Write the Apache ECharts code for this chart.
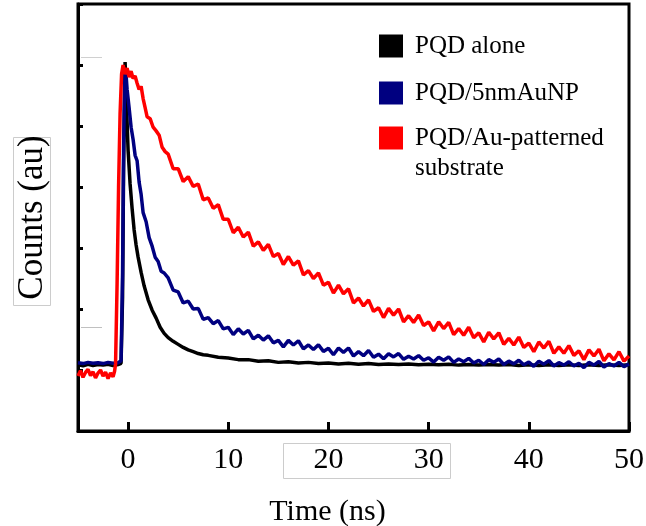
<!DOCTYPE html>
<html><head><meta charset="utf-8">
<script src="https://cdn.jsdelivr.net/npm/echarts@6/dist/echarts.min.js"></script>
<style>html,body{margin:0;padding:0;background:#fff}#c{width:646px;height:526px}</style>
</head><body><div id="c"></div>
<script>
// ---- data ----
const seriesNames = ['PQD alone', 'PQD/5nmAuNP', 'PQD/Au-patterned substrate'];
const xTickValues = [0, 10, 20, 30, 40, 50];

const timeBlack = [-5,-4.5,-4,-3.5,-3,-2.5,-2,-1.5,-1,-0.7,-0.55,-0.45,-0.3,-0.15,0,0.2,0.4,0.6,0.8,1,1.3,1.6,2,2.4,2.8,3.2,3.6,4,4.5,5,5.5,6,6.5,7,7.5,8,9,10,11,12,13,14,15,16,17,18,19,20,21,22,23,24,25,26,27,28,29,30,31,32,33,34,35,36,37,38,39,40,41,42,43,44,45,46,47,48,49,50];
const countsBlack = [1090,1070,1095,1075,1090,1080,1095,1075,1090,1110,2200,4300,6050,5300,4600,4050,3650,3300,3050,2850,2600,2380,2150,1980,1850,1700,1600,1530,1470,1420,1370,1330,1300,1270,1250,1240,1210,1195,1170,1170,1145,1150,1125,1135,1115,1125,1105,1115,1100,1110,1095,1105,1090,1100,1090,1100,1085,1095,1085,1095,1080,1090,1080,1090,1080,1090,1075,1085,1075,1085,1075,1085,1075,1085,1075,1085,1075,1085];

const tailTime = [4,4.5,5,5.5,6,6.5,7,7.5,8,8.5,9,9.5,10,10.5,11,11.5,12,12.5,13,13.5,14,14.5,15,15.5,16,16.5,17,17.5,18,18.5,19,19.5,20,20.5,21,21.5,22,22.5,23,23.5,24,24.5,25,25.5,26,26.5,27,27.5,28,28.5,29,29.5,30,30.5,31,31.5,32,32.5,33,33.5,34,34.5,35,35.5,36,36.5,37,37.5,38,38.5,39,39.5,40,40.5,41,41.5,42,42.5,43,43.5,44,44.5,45,45.5,46,46.5,47,47.5,48,48.5,49,49.5,50];

const bluePeakTime = [-5,-4.5,-4,-3.5,-3,-2.5,-2,-1.5,-1,-0.7,-0.55,-0.45,-0.35,-0.25,-0.1,0.1,0.3,0.5,0.7,0.9,1.1,1.3,1.5,1.8,2.1,2.4,2.7,3,3.3,3.6];
const bluePeakCounts = [1120,1105,1125,1110,1120,1105,1125,1110,1120,1150,2600,4600,5700,5950,5600,5300,4980,4780,4520,4430,4080,3880,3580,3430,3170,3030,2850,2780,2620,2590];
const blueTailCounts = [2510,2310,2280,2100,2130,2000,2010,1830,1860,1760,1810,1675,1700,1580,1675,1590,1650,1510,1570,1490,1560,1445,1485,1380,1485,1410,1480,1345,1410,1335,1415,1305,1355,1250,1360,1290,1360,1230,1300,1235,1320,1210,1260,1185,1265,1215,1270,1175,1225,1180,1235,1160,1200,1130,1210,1160,1215,1125,1180,1135,1190,1115,1160,1090,1170,1125,1180,1090,1145,1100,1160,1085,1130,1060,1145,1095,1155,1065,1120,1080,1135,1065,1110,1040,1125,1080,1140,1050,1105,1065,1125,1055,1100];

const redPeakTime = [-5,-4.75,-4.5,-4.25,-4,-3.75,-3.5,-3.25,-3,-2.75,-2.5,-2.25,-2,-1.75,-1.5,-1.35,-1.25,-1.1,-0.95,-0.8,-0.65,-0.5,-0.3,-0.1,0.1,0.3,0.5,0.7,0.9,1.1,1.3,1.5,1.7,1.9,2.2,2.5,2.8,3.1,3.4,3.7];
const redPeakCounts = [900,990,880,960,1010,910,970,870,950,1000,900,965,860,950,890,980,1100,2400,4000,5200,5850,6000,5850,5950,5800,5900,5780,5820,5700,5600,5650,5450,5300,5150,5120,4980,4920,4850,4650,4580];
const redTailCounts = [4540,4300,4300,4090,4170,4010,4050,3790,3820,3650,3710,3470,3470,3250,3340,3180,3260,3030,3100,2960,3060,2860,2910,2730,2860,2720,2790,2560,2630,2500,2590,2390,2440,2260,2390,2250,2330,2100,2180,2050,2150,1960,2020,1860,2010,1900,2000,1790,1890,1780,1900,1730,1790,1640,1790,1680,1780,1580,1680,1570,1700,1530,1610,1460,1620,1510,1610,1420,1520,1410,1540,1370,1440,1300,1460,1360,1470,1275,1380,1275,1400,1240,1315,1170,1330,1230,1340,1150,1265,1165,1300,1145,1230];

// ---- build ----
function pairs(t, c) { return t.map((v, i) => [v, c[i]]); }
const dataBlack = pairs(timeBlack, countsBlack);
const dataBlue = pairs(bluePeakTime.concat(tailTime), bluePeakCounts.concat(blueTailCounts));
const dataRed = pairs(redPeakTime.concat(tailTime), redPeakCounts.concat(redTailCounts));

const FONT = '"Liberation Serif", "Times New Roman", serif';
const chart = echarts.init(document.getElementById('c'), null, { renderer: 'canvas' });

function legendFor(name, top, extra) {
  return Object.assign({
    data: [name], left: 379, top: top, orient: 'vertical', padding: 0,
    icon: 'rect', itemWidth: 24, itemHeight: 23, selectedMode: false,
    itemStyle: { borderWidth: 0 },
    textStyle: { fontFamily: FONT, fontSize: 25, color: '#000', lineHeight: 30, padding: [0, 0, 0, 7] }
  }, extra || {});
}

chart.setOption({
  animation: false,
  backgroundColor: '#fff',
  color: ['#000000', '#000080', '#ff0000'],
  grid: { left: 78, right: 17, top: 4, bottom: 95, containLabel: false, outerBoundsMode: 'none', show: true, borderColor: '#000', borderWidth: 3, backgroundColor: 'transparent' },
  legend: [
    legendFor(seriesNames[0], 31),
    legendFor(seriesNames[1], 78),
    legendFor(seriesNames[2], 93, {
      formatter: () => '\nPQD/Au-patterned\nsubstrate'
    })
  ],
  xAxis: {
    type: 'value', min: -5, max: 50,
    name: 'Time (ns)', nameLocation: 'middle', nameGap: 66,
    nameTextStyle: { fontFamily: FONT, fontSize: 30, color: '#000', padding: [0, 52, 0, 0] },
    axisLine: { show: true, onZero: false, lineStyle: { color: '#000', width: 3 } },
    axisTick: { show: true, inside: true, length: 9, customValues: xTickValues, lineStyle: { color: '#000', width: 3 } },
    axisLabel: { customValues: xTickValues, fontFamily: FONT, fontSize: 30, color: '#000', margin: 14 },
    splitLine: { show: false }
  },
  yAxis: {
    type: 'value', min: 0, max: 7000, interval: 1000,
    name: 'Counts (au)', nameLocation: 'middle', nameGap: 28, nameRotate: 90,
    nameTextStyle: { fontFamily: FONT, fontSize: 35, color: '#000' },
    axisLine: { show: true, onZero: false, lineStyle: { color: '#000', width: 3 } },
    axisTick: { show: true, inside: true, length: 5, lineStyle: { color: '#000', width: 3 } },
    axisLabel: { show: false },
    splitLine: { show: false }
  },
  graphic: [
    { type: 'rect', shape: { x: 13.5, y: 137.5, width: 37, height: 168 }, style: { fill: 'none', stroke: '#cccccc', lineWidth: 1 }, z: 0 },
    { type: 'rect', shape: { x: 283.5, y: 443.5, width: 167, height: 35 }, style: { fill: 'none', stroke: '#cccccc', lineWidth: 1 }, z: 0 },
    { type: 'line', shape: { x1: 81, y1: 57.5, x2: 102, y2: 57.5 }, style: { stroke: '#d0d0d0', lineWidth: 1 }, z: 0 },
    { type: 'line', shape: { x1: 81, y1: 327.5, x2: 102, y2: 327.5 }, style: { stroke: '#c0c0c0', lineWidth: 1 }, z: 0 }
  ],
  series: [
    { name: seriesNames[0], type: 'line', data: dataBlack, showSymbol: false, lineStyle: { width: 3.5, color: '#000000' }, itemStyle: { color: '#000000' }, z: 2 },
    { name: seriesNames[1], type: 'line', data: dataBlue, showSymbol: false, lineStyle: { width: 3.5, color: '#000080' }, itemStyle: { color: '#000080' }, z: 3 },
    { name: seriesNames[2], type: 'line', data: dataRed, showSymbol: false, lineStyle: { width: 3.5, color: '#ff0000' }, itemStyle: { color: '#ff0000' }, z: 4 }
  ]
});
</script>
</body></html>
